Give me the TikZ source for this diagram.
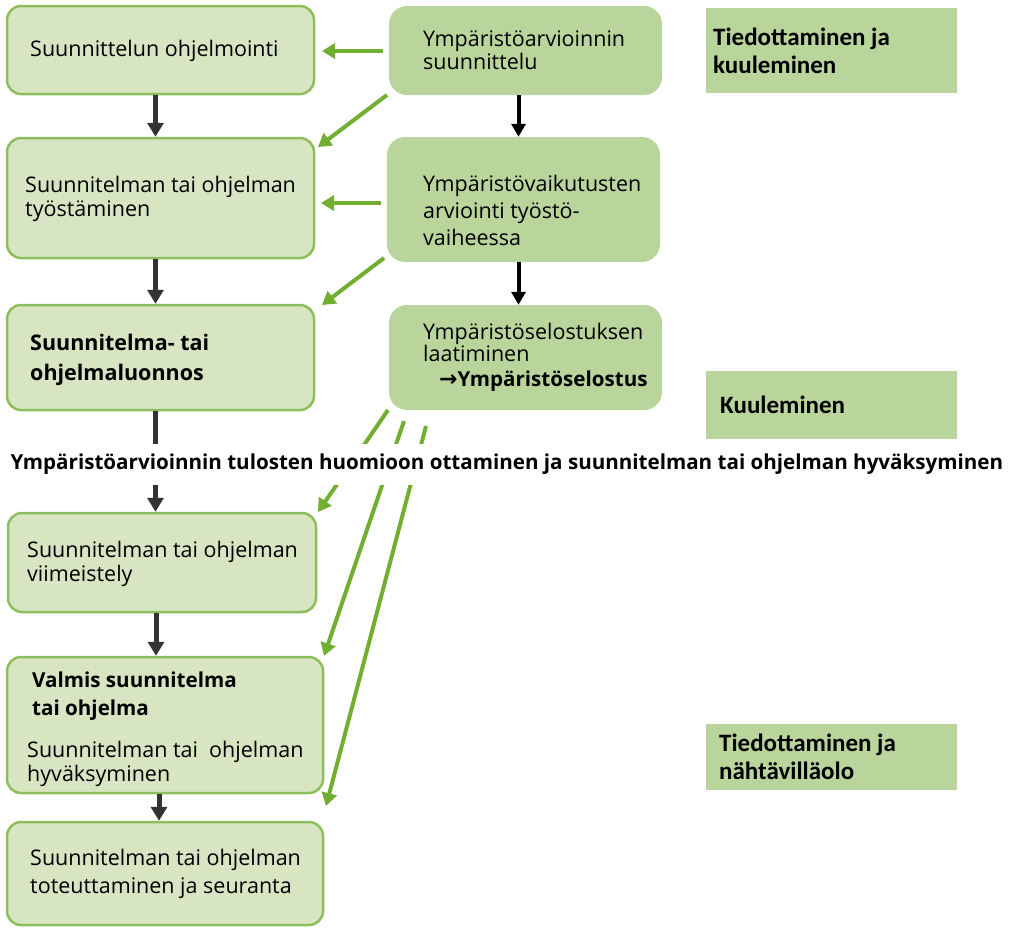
\documentclass[tikz,border=0pt]{standalone}
\usepackage{fontspec}
\setmainfont{Open Sans}
\newfontfamily\calib{Carlito}
\newfontfamily\dejavu{DejaVu Sans}
\usetikzlibrary{arrows.meta}
\definecolor{lfill}{HTML}{D7E5C3}
\definecolor{lborder}{HTML}{8CBE5C}
\definecolor{mfill}{HTML}{BAD59B}
\definecolor{garr}{HTML}{72AE32}
\definecolor{kgray}{HTML}{333333}
\tikzset{
  lbox/.style={draw=lborder, fill=lfill, line width=2.5pt, rounded corners=14pt, inner sep=0pt},
  mbox/.style={fill=mfill, rounded corners=18pt, inner sep=0pt},
  rbox/.style={fill=mfill, inner sep=0pt},
  txt/.style={inner sep=0pt, align=left, anchor=west, font=\fontsize{21.5}{23.5}\selectfont},
  btxt/.style={inner sep=0pt, align=left, anchor=west, font=\fontsize{21.5}{30}\selectfont\bfseries},
  rtxt/.style={inner sep=0pt, align=left, anchor=west, font=\fontsize{25}{28}\selectfont\calib\bfseries},
  garrow/.style={draw=garr, line width=4pt, -{Triangle[length=13pt,width=15pt]}},
  karrow/.style={draw=kgray, line width=5pt, -{Triangle[length=14pt,width=16pt]}},
  blkarrow/.style={draw=black, line width=4pt, -{Triangle[length=13pt,width=14pt]}}
}
\begin{document}
\begin{tikzpicture}[x=1pt,y=-1pt]
\useasboundingbox (0,0) rectangle (1019,927);
% left boxes
\node[lbox, minimum width=307pt, minimum height=88pt] (b1) at (160.5,50) {};
\node[lbox, minimum width=307pt, minimum height=120pt] (b2) at (160.5,198) {};
\node[lbox, minimum width=307pt, minimum height=105pt] (b3) at (160.5,357.5) {};
\node[lbox, minimum width=308pt, minimum height=99pt] (b4) at (162,562.5) {};
\node[lbox, minimum width=316pt, minimum height=136pt] (b5) at (165,725) {};
\node[lbox, minimum width=316pt, minimum height=103pt] (b6) at (165,873.5) {};
% middle boxes
\node[mbox, minimum width=273pt, minimum height=89pt] (A) at (525.5,50.5) {};
\node[mbox, minimum width=273pt, minimum height=125pt] (B) at (523.5,199.5) {};
\node[mbox, minimum width=273pt, minimum height=105pt] (C) at (525.5,357.5) {};
% right boxes
\node[rbox, minimum width=251pt, minimum height=85pt] (R1) at (831.5,50.5) {};
\node[rbox, minimum width=251pt, minimum height=68pt] (R2) at (831.5,405) {};
\node[rbox, minimum width=251pt, minimum height=66pt] (R3) at (831.5,757) {};
% texts
\node[txt] (t1) at (30,51) {Suunnittelun ohjelmointi};
\node[txt] (t2) at (25,199) {Suunnitelman tai ohjelman\\ työstäminen};
\node[btxt] (t3) at (30,360) {Suunnitelma- tai\\ohjelmaluonnos};
\node[txt] (t4) at (27,564) {Suunnitelman tai ohjelman\\viimeistely};
\node[btxt, font=\fontsize{20.6}{28}\selectfont\bfseries] (t5a) at (32,696) {Valmis suunnitelma\\tai ohjelma};
\node[txt] (t5b) at (27,764) {Suunnitelman tai\ \ ohjelman\\hyväksyminen};
\node[txt, font=\fontsize{21.5}{28}\selectfont] (t6) at (30,874) {Suunnitelman tai ohjelman\\toteuttaminen ja seuranta};
\node[txt] (tA) at (423,50) {Ympäristöarvioinnin\\suunnittelu};
\node[txt, font=\fontsize{21.5}{27}\selectfont] (tB) at (423,210) {Ympäristövaikutusten\\arviointi työstö-\\vaiheessa};
\node[txt, font=\fontsize{21.5}{22.5}\selectfont] (tC) at (423,357) {Ympäristöselostuksen\\laatiminen\\[2pt]\hspace{16pt}{\fontsize{20.6}{22}\selectfont\bfseries{\dejavu\fontsize{22}{22}\selectfont\bfseries →}Ympäristöselostus}};
\node[rtxt] (r1) at (713,51) {Tiedottaminen ja\\kuuleminen};
\node[rtxt] (r2) at (720,405) {Kuuleminen};
\node[rtxt] (r3) at (719,757) {Tiedottaminen ja\\nähtävilläolo};
% black arrows
\draw[karrow] ([xshift=-5pt]b1.south) -- ([xshift=-5pt]b2.north);
\draw[karrow] ([xshift=-5pt]b2.south) -- ([xshift=-5pt]b3.north);
\draw[karrow] ([xshift=-5pt]b3.south) -- ([xshift=-5pt]b3.south |- b4.north);
\draw[karrow] ([xshift=-6pt]b4.south) -- ([xshift=-6pt]b4.south |- b5.north);
\draw[karrow] ([xshift=-6pt]b5.south) -- ([xshift=-6pt]b6.north);
\draw[blkarrow] ([xshift=-7pt]A.south) -- ([xshift=-5pt]B.north);
\draw[blkarrow] ([xshift=-5pt]B.south) -- ([xshift=-7pt]C.north);
% green arrows
\coordinate (gA1) at (383,51);
\coordinate (gA2) at (387,95);
\coordinate (gB1) at (381,203);
\coordinate (gB2) at (384,258);
\coordinate (gC1) at (388,410);
\coordinate (gC2) at (404,421);
\coordinate (gC3) at (426,426);
\coordinate (e1) at (322,51);
\coordinate (e2) at (318,147);
\coordinate (e3) at (321,203);
\coordinate (e4) at (322,305);
\coordinate (e5) at (318,512);
\coordinate (e6) at (324,656);
\coordinate (e7) at (326,806);
\draw[garrow] (gA1) -- (e1);
\draw[garrow] (gA2) -- (e2);
\draw[garrow] (gB1) -- (e3);
\draw[garrow] (gB2) -- (e4);
\draw[garrow] (gC1) -- (e5);
\draw[garrow] (gC2) -- (e6);
\draw[garrow] (gC3) -- (e7);
% long text band
\node[fill=white, inner xsep=2pt, inner ysep=0pt, minimum height=41pt, font=\fontsize{20.6}{24}\selectfont\bfseries] (band) at (507,464) {Ympäristöarvioinnin tulosten huomioon ottaminen ja suunnitelman tai ohjelman hyväksyminen};
\end{tikzpicture}
\end{document}
